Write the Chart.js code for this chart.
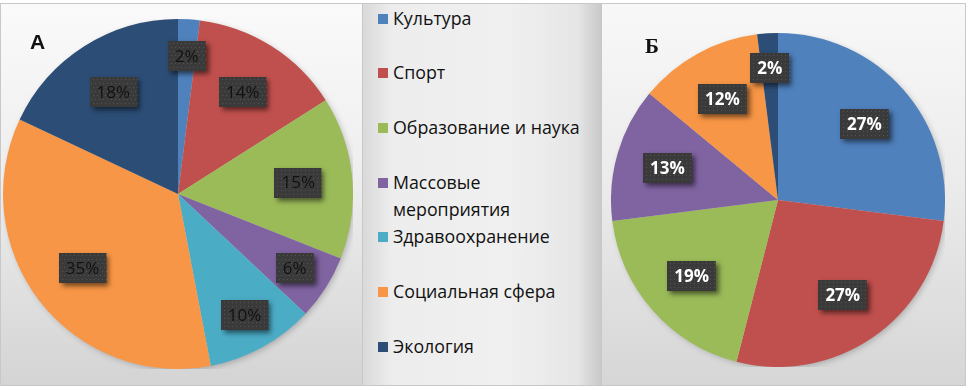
<!DOCTYPE html>
<html>
<head>
<meta charset="utf-8">
<script src="https://cdn.jsdelivr.net/npm/chart.js@4"></script>
<style>
  body { margin: 0; background: #fff; width: 970px; height: 390px; position: relative; overflow: hidden; }
  .panel { position: absolute; top: 3px; height: 383px; box-sizing: border-box; border: 1px solid #c8c8c8; }
  #pA { left: 0; width: 363px; background: linear-gradient(to bottom, #fafafa 0%, #eeeeee 45%, #d4d4d4 100%); }
  #pL { left: 362px; width: 240px; background: linear-gradient(to right, #d9d9d9 0%, #ededed 12%, #f0f0f0 60%, #e6e6e6 90%, #c9c9c9 100%); }
  #pB { left: 601px; width: 365px; background: linear-gradient(to bottom, #f8f8f8 0%, #ececec 45%, #d6d6d6 100%); }
  canvas { position: absolute; }
  .letter { position: absolute; font-weight: bold; font-size: 21px; color: #111; }
  .item { position: absolute; font-family: "Open Sans", sans-serif; font-size: 17.8px; line-height: 27px; color: #111; }
  .item span.sq { position: absolute; left: 0; top: 9px; width: 10px; height: 10px; }
  .item div { margin-left: 15px; }
</style>
</head>
<body>
<div class="panel" id="pA"></div>
<div class="panel" id="pL"></div>
<div class="panel" id="pB"></div>
<canvas id="chartA" width="350" height="350" style="left:3px; top:19px;"></canvas>
<canvas id="chartB" width="334" height="334" style="left:611px; top:33px;"></canvas>
<div class="letter" style="left:30px; top:30px; font-family:'Liberation Sans', Arial, sans-serif;">А</div>
<div class="letter" style="left:645px; top:34px; font-family:'Liberation Serif', serif;">Б</div>
<div id="legend"></div>
<script>
// categories and values (percent)
var categories = ['Культура', 'Спорт', 'Образование и наука', 'Массовые мероприятия', 'Здравоохранение', 'Социальная сфера', 'Экология'];
var legendLines = [['Культура'], ['Спорт'], ['Образование и наука'], ['Массовые', 'мероприятия'], ['Здравоохранение'], ['Социальная сфера'], ['Экология']];
var valuesA = [2, 14, 15, 6, 10, 35, 18];
var valuesB = [27, 27, 19, 13, 0, 12, 2];
var colors = ['#4f81bd', '#c0504d', '#9bbb59', '#8064a2', '#4bacc6', '#f79646', '#2c4d75'];

// legend in the middle panel
var leg = document.getElementById('legend');
for (let i = 0; i < categories.length; i++) {
    let el = document.createElement('div');
    el.className = 'item';
    el.style.left = '378px';
    el.style.top = (18 + 54.7 * i - 13.5) + 'px';
    el.innerHTML = '<span class="sq" style="background:' + colors[i] + '"></span><div>' + legendLines[i].join('<br>') + '</div>';
    leg.appendChild(el);
}

// dark boxes with percentages
const boxLabels = {
    id: 'boxLabels',
    afterDatasetsDraw(chart, args, opts) {
        const ctx = chart.ctx;
        const meta = chart.getDatasetMeta(0);
        const data = chart.data.datasets[0].data;
        meta.data.forEach((arc, i) => {
            let v = data[i];
            if (!v) return;
            let p = arc.getProps(['x', 'y', 'startAngle', 'endAngle', 'outerRadius'], true);
            let mid = (p.startAngle + p.endAngle) / 2;
            let f = v < 11 ? 0.79 : 0.69;
            let cx = p.x + Math.cos(mid) * p.outerRadius * f;
            let cy = p.y + Math.sin(mid) * p.outerRadius * f;
            let text = v + '%';
            ctx.save();
            ctx.font = opts.font;
            let w = ctx.measureText(text).width + 14, h = 30;
            let x0 = Math.round(cx - w / 2), y0 = Math.round(cy - h / 2);
            ctx.shadowColor = 'rgba(0,0,0,0.55)';
            ctx.shadowBlur = 5;
            ctx.shadowOffsetX = 3;
            ctx.shadowOffsetY = 3;
            ctx.fillStyle = '#3a3a3a';
            ctx.fillRect(x0, y0, w, h);
            ctx.shadowColor = 'transparent';
            // dotted texture
            ctx.fillStyle = 'rgba(255,255,255,0.13)';
            for (let yy = y0 + 2; yy < y0 + h; yy += 4) {
                for (let xx = x0 + ((yy / 4) % 2 ? 2 : 0) + 1; xx < x0 + w; xx += 4) {
                    ctx.fillRect(xx, yy, 1, 1);
                }
            }
            ctx.fillStyle = opts.color;
            ctx.textAlign = 'center';
            ctx.textBaseline = 'middle';
            ctx.fillText(text, cx, cy + 1);
            ctx.restore();
        });
    }
};

const pieShadow = {
    id: 'pieShadow',
    beforeDatasetsDraw(chart) {
        const ctx = chart.ctx;
        const a = chart.getDatasetMeta(0).data[0];
        ctx.save();
        ctx.shadowColor = 'rgba(0,0,0,0.25)';
        ctx.shadowBlur = 6;
        ctx.shadowOffsetX = 2;
        ctx.shadowOffsetY = 2;
        ctx.fillStyle = '#ccc';
        ctx.beginPath();
        ctx.arc(a.x, a.y, a.outerRadius - 1, 0, Math.PI * 2);
        ctx.fill();
        ctx.restore();
    }
};

const makePie = (id, values, font, color) => {
    return new Chart(document.getElementById(id), {
        type: 'pie',
        data: {
            labels: categories,
            datasets: [{
                data: values,
                backgroundColor: colors,
                borderWidth: 0
            }]
        },
        options: {
            responsive: false,
            animation: false,
            layout: { padding: 0 },
            plugins: {
                legend: { display: false },
                tooltip: { enabled: false },
                boxLabels: { font: font, color: color }
            }
        },
        plugins: [pieShadow, boxLabels]
    });
};

makePie('chartA', valuesA, '17px "Open Sans"', '#111');
makePie('chartB', valuesB, 'bold 17px "Open Sans"', '#fff');
</script>
</body>
</html>
